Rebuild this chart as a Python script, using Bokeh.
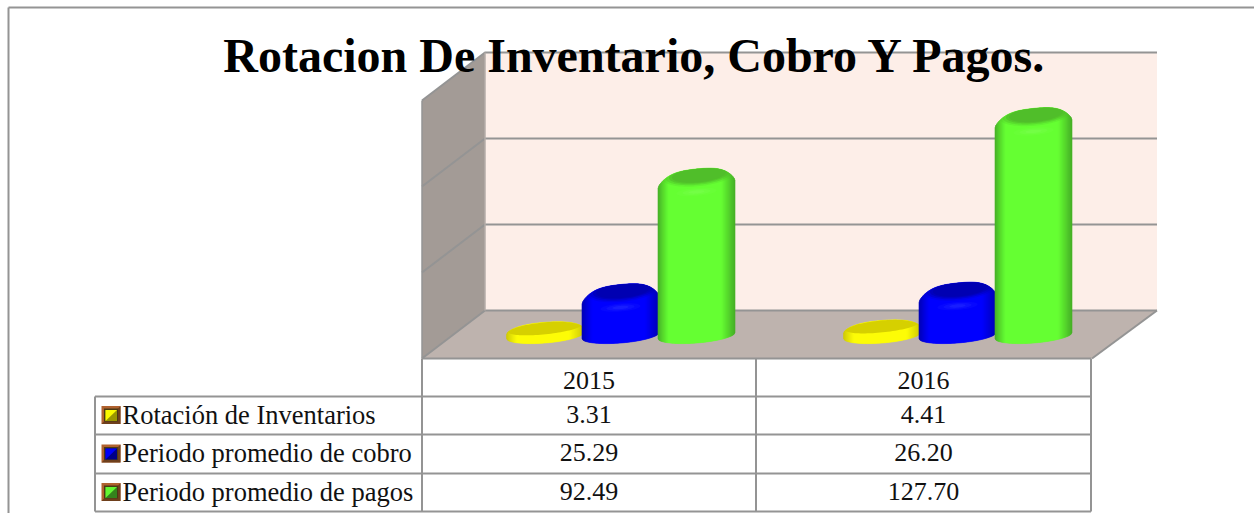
from bokeh.plotting import figure
from bokeh.models import Range1d
from bokeh.core.properties import value
from bokeh.embed import file_html
from bokeh.resources import INLINE
import numpy as np

title = "Rotacion De Inventario, Cobro Y Pagos."
years = ["2015", "2016"]
series = ["Rotación de Inventarios", "Periodo promedio de cobro", "Periodo promedio de pagos"]
rotacion = [3.31, 4.41]
cobro = [25.29, 26.20]
pagos = [92.49, 127.70]
values = [rotacion, cobro, pagos]
axis_ticks = [0, 50, 100, 150]

W, H = 1254, 513
p = figure(width=W, height=H, x_range=Range1d(0, W), y_range=Range1d(H, 0),
           output_backend="svg", toolbar_location=None, min_border=0,
           background_fill_color="white", border_fill_color="white", outline_line_color=None)
p.axis.visible = False
p.grid.visible = False
p.styles = {"position": "absolute", "left": "0px", "top": "0px"}

GRAY = "#949494"
# outer frame (runs off the page right and bottom)
p.line([8, 8], [7, H], line_color=GRAY, line_width=2)
p.line([8, W], [7, 7], line_color=GRAY, line_width=2)

# 3D box
wx0, wx1, wy_floor, wy_top = 484.5, 1156.5, 310, 52
dx, dy = -63, 48
unit = (wy_floor - wy_top) / axis_ticks[-1]
p.patch([wx0, wx1, wx1, wx0], [wy_top, wy_top, wy_floor, wy_floor], fill_color="#FDEEE8", line_color=None)
p.patch([wx0 + dx, wx0, wx0, wx0 + dx], [wy_top + dy, wy_top, wy_floor, wy_floor + dy],
        fill_color="#A39B96", line_color=None)
p.patch([wx0 + dx, wx0, wx1, 1091.5], [wy_floor + dy, wy_floor, wy_floor, wy_floor + dy],
        fill_color="#BEB3AE", line_color=None)
for t in axis_ticks:
    y = wy_floor - t * unit
    p.line([wx0 + dx, wx0, wx1], [y + dy, y, y], line_color=GRAY, line_width=2)
p.line([wx0 + dx, wx0 + dx], [wy_top + dy, wy_floor + dy], line_color=GRAY, line_width=1.5)
p.line([wx0, wx0], [wy_top, wy_floor], line_color="#B5ADA8", line_width=1.5)
p.line([wx1, 1091.5], [wy_floor, wy_floor + dy], line_color=GRAY, line_width=2)


def mix(c1, c2, t):
    return "#%02x%02x%02x" % tuple(int(round(a + (b - a) * t)) for a, b in zip(c1, c2))


BODY = [(255, 255, 0), (0, 0, 255), (102, 255, 51)]
EDGE = [(205, 200, 0), (0, 0, 180), (70, 175, 38)]
CAP = [(214, 208, 0), (0, 0, 178), (80, 190, 42)]
HIGH = [(255, 255, 60), (50, 60, 255), (130, 255, 90)]
OFFS = [-75.5, 0, 76]
CENTERS = [620, 957]
A, B, TILT, Y0 = 38.5, 7.5, 0.078, 335


def cylinder(cx, val, s):
    h = val * unit
    y1 = Y0 - h
    r = min(8, h * 0.3)
    ka = 4.0 if h >= 10 else 3.0

    def top(u):
        return y1 - ka * u - B * np.sqrt(max(0, 1 - u * u)) + r * u ** 4

    def bot(u):
        return Y0 - TILT * A * u + B * np.sqrt(max(0, 1 - u * u))

    us = np.linspace(-1, 1, 78)
    xs, ys, cols = [], [], []
    for u0, u1 in zip(us[:-1], us[1:]):
        um = (u0 + u1) / 2
        xs.append([cx + A * u0, cx + A * u1, cx + A * u1, cx + A * u0])
        ys.append([top(u0), top(u1), bot(u1), bot(u0)])
        d = max(0, (-um - 0.72) / 0.28) if um < 0 else max(0, (um - 0.64) / 0.36)
        cols.append(mix(BODY[s], EDGE[s], d ** 1.1))
    p.patches(xs, ys, fill_color=cols, line_color=cols, line_width=0.6)

    t = np.linspace(0, 2 * np.pi, 90)
    if h < 10:
        layers = [(0.95, 0.8, 1.0)]
        shift, lift = 0, 1.5
    else:
        layers = [(0.95, 1.5, 0.2), (0.87, 1.3, 0.4), (0.78, 1.12, 0.65), (0.7, 0.98, 1.0)]
        shift, lift = 2.5, 1.5
    for fa, fb, strength in layers:
        ca, cb = A * fa, B * fb
        ex = cx + shift + ca * np.cos(t)
        ey = y1 - lift - 0.1 * ca * np.cos(t) + cb * np.sin(t)
        ey = [max(yy, top(min(1, max(-1, (xx - cx) / A)))) for xx, yy in zip(ex, ey)]
        p.patch(list(ex), ey, fill_color=mix(CAP[s], CAP[s], 0), fill_alpha=strength, line_color=None)
    if h >= 10:
        for f, al in [(1.0, 0.12), (0.7, 0.2), (0.4, 0.3)]:
            hx = cx + 20 * f * np.cos(t)
            hy = y1 + 15.5 - TILT * 20 * f * np.cos(t) + 4 * f * np.sin(t)
            p.patch(hx, hy, fill_color=mix(HIGH[s], HIGH[s], 0), fill_alpha=al, line_color=None)


for c, cx in enumerate(CENTERS):
    for s in range(3):
        cylinder(cx + OFFS[s], values[s][c], s)

# data table
tx = [94.5, 421.5, 755.5, 1090.5]
ty = [358, 396, 434, 473, 511]
for y in ty[1:]:
    p.line([tx[0], tx[3]], [y, y], line_color=GRAY, line_width=2)
p.line([tx[1], tx[3]], [ty[0], ty[0]], line_color=GRAY, line_width=2)
p.line([tx[0], tx[0]], [ty[1], ty[4]], line_color=GRAY, line_width=2)
for x in tx[1:]:
    p.line([x, x], [ty[0], ty[4]], line_color=GRAY, line_width=2)

FONT = value("Liberation Serif")
col_c = [(tx[1] + tx[2]) / 2, (tx[2] + tx[3]) / 2]
row_c = [380, 414, 452, 491]
p.text(col_c, [row_c[0]] * 2, text=years, text_font=FONT, text_font_size="26px",
       text_align="center", text_baseline="middle", text_color="#111111")
for s in range(3):
    p.text(col_c, [row_c[s + 1]] * 2, text=["%.2f" % v for v in values[s]], text_font=FONT,
           text_font_size="26px", text_align="center", text_baseline="middle", text_color="#111111")
p.text([122] * 3, row_c[1:], text=series, text_font=FONT, text_font_size="26.5px",
       text_align="left", text_baseline="middle", text_color="#111111")

# legend keys
for s in range(3):
    yc = (ty[s + 1] + ty[s + 2]) / 2 - 0.5
    xc = 110.5
    hb = mix(BODY[s], EDGE[s], 0.1)
    hd = mix(EDGE[s], (0, 0, 0), 0.25)
    p.patch([xc - 9.5, xc + 9.5, xc + 9.5, xc - 9.5], [yc - 9, yc - 9, yc + 9, yc + 9],
            fill_color="#B0622F", line_color=None)
    p.patch([xc + 9.5, xc + 9.5, xc - 9.5, xc - 6.5, xc + 6.5, xc + 6.5],
            [yc - 9, yc + 9, yc + 9, yc + 6, yc + 6, yc - 6], fill_color="#6E3F1C", line_color=None)
    p.patch([xc - 7, xc + 7, xc + 7, xc - 7], [yc - 6.5, yc - 6.5, yc + 6.5, yc + 6.5],
            fill_color="#4A3A14", line_color=None)
    p.patch([xc - 5.5, xc + 6, xc + 6, xc - 5.5], [yc - 5, yc - 5, yc + 6, yc + 6],
            fill_color=hd, line_color=None)
    p.patch([xc - 5.5, xc + 6, xc - 5.5], [yc - 5, yc - 5, yc + 6],
            fill_color=hb, line_color=None)

p.text([635], [55], text=[title], text_font=FONT, text_font_size="48px", text_font_style="bold",
       text_align="center", text_baseline="middle", text_color="black")

open("out.html", "w").write(file_html(p, INLINE))
